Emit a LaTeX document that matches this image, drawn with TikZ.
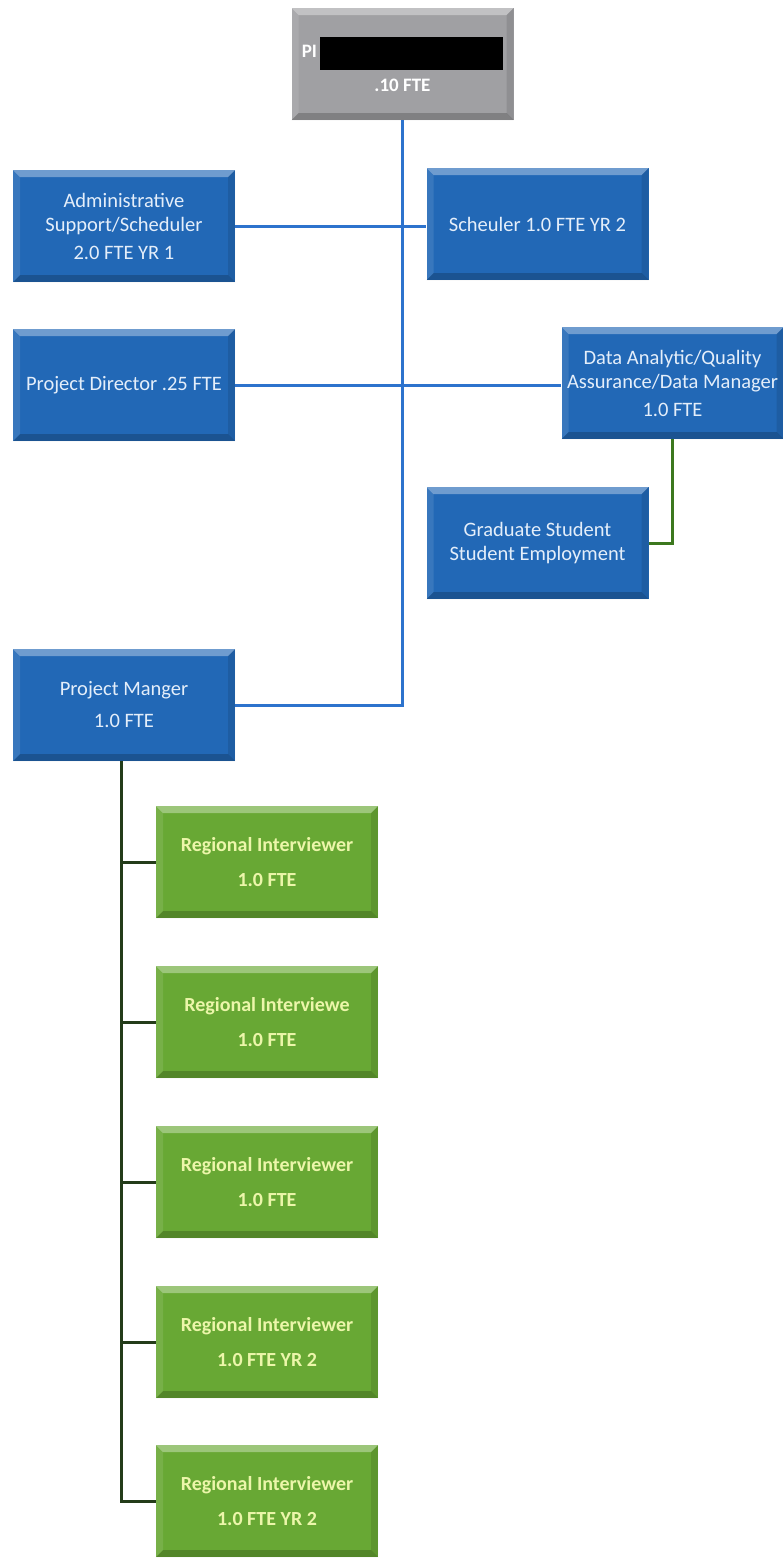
\documentclass[tikz,border=0pt]{standalone}
\usepackage{fontspec}
\setmainfont{Carlito}
\usepackage{xcolor}
\usetikzlibrary{positioning}
\definecolor{boxblue}{RGB}{34,104,182}
\definecolor{boxgreen}{RGB}{104,168,52}
\definecolor{boxgray}{RGB}{160,160,163}
\definecolor{lineblue}{RGB}{45,115,205}
\definecolor{linegreen}{RGB}{60,120,30}
\definecolor{darkline}{RGB}{35,60,25}
\definecolor{paleyellow}{RGB}{236,246,170}
\definecolor{paleblue}{RGB}{228,238,250}

\tikzset{
  bevel/.style={path picture={
    \fill[white,opacity=.35] (path picture bounding box.north west) -- (path picture bounding box.north east)
      -- ([shift={(-7pt,-7pt)}]path picture bounding box.north east) -- ([shift={(7pt,-7pt)}]path picture bounding box.north west) -- cycle;
    \fill[black,opacity=.2] (path picture bounding box.south west) -- (path picture bounding box.south east)
      -- ([shift={(-7pt,7pt)}]path picture bounding box.south east) -- ([shift={(7pt,7pt)}]path picture bounding box.south west) -- cycle;
    \fill[black,opacity=.1] (path picture bounding box.north east) -- (path picture bounding box.south east)
      -- ([shift={(-7pt,7pt)}]path picture bounding box.south east) -- ([shift={(-7pt,-7pt)}]path picture bounding box.north east) -- cycle;
    \fill[white,opacity=.1] (path picture bounding box.north west) -- (path picture bounding box.south west)
      -- ([shift={(7pt,7pt)}]path picture bounding box.south west) -- ([shift={(7pt,-7pt)}]path picture bounding box.north west) -- cycle;
  }},
  orgbox/.style={rectangle, bevel, minimum width=222pt, minimum height=112pt, inner sep=0pt, align=center},
  bluebox/.style={orgbox, fill=boxblue, text=paleblue, font=\fontsize{20.5}{24}\selectfont},
  greenbox/.style={orgbox, fill=boxgreen, text=paleyellow, font=\bfseries\fontsize{20}{25}\selectfont},
  graybox/.style={orgbox, fill=boxgray, text=white, font=\bfseries\fontsize{19}{22}\selectfont},
  link/.style={line width=3pt}
}

\begin{document}
\begin{tikzpicture}[x=1pt, y=-1pt]
  \useasboundingbox (0,0) rectangle (783,1558);

  % Top
  \node[graybox] (pi) at (402.5,64) {PI\,\textcolor{black}{\rule[-12pt]{183pt}{33pt}}\\[8pt].10 FTE};

  % Blue boxes
  \node[bluebox] (admin) at (124,226) {Administrative\\Support/Scheduler\\[4pt]2.0 FTE YR 1};
  \node[bluebox] (sched) at (537.5,224) {Scheuler 1.0 FTE YR 2};
  \node[bluebox] (pd) at (124,385) {Project Director .25 FTE};
  \node[bluebox] (data) at (672.5,383) {Data Analytic/Quality\\Assurance/Data Manager\\[4pt]1.0 FTE};
  \node[bluebox] (grad) at (537.5,543) {Graduate Student\\Student Employment};
  \node[bluebox] (pm) at (124,705) {Project Manger\\[8pt]1.0 FTE};

  % Green boxes
  \node[greenbox] (ri1) at (267,862) {Regional Interviewer\\[10pt]1.0 FTE};
  \node[greenbox] (ri2) at (267,1022) {Regional Interviewe\\[10pt]1.0 FTE};
  \node[greenbox] (ri3) at (267,1182) {Regional Interviewer\\[10pt]1.0 FTE};
  \node[greenbox] (ri4) at (267,1342) {Regional Interviewer\\[10pt]1.0 FTE YR 2};
  \node[greenbox] (ri5) at (267,1501) {Regional Interviewer\\[10pt]1.0 FTE YR 2};

  % Lines
  \draw[lineblue, link] (pi.south) -- (pi.south |- pm.east) -- (pm.east);
  \draw[lineblue, link] (admin.east) -- (admin.east -| sched.west);
  \draw[lineblue, link] (pd.east) -- (pd.east -| data.west);
  \draw[linegreen, link] (data.south) |- (grad.east);
  \foreach \i in {1,...,5}
    \draw[darkline, link] ([xshift=-3pt]pm.south) |- (ri\i.west);
\end{tikzpicture}
\end{document}
